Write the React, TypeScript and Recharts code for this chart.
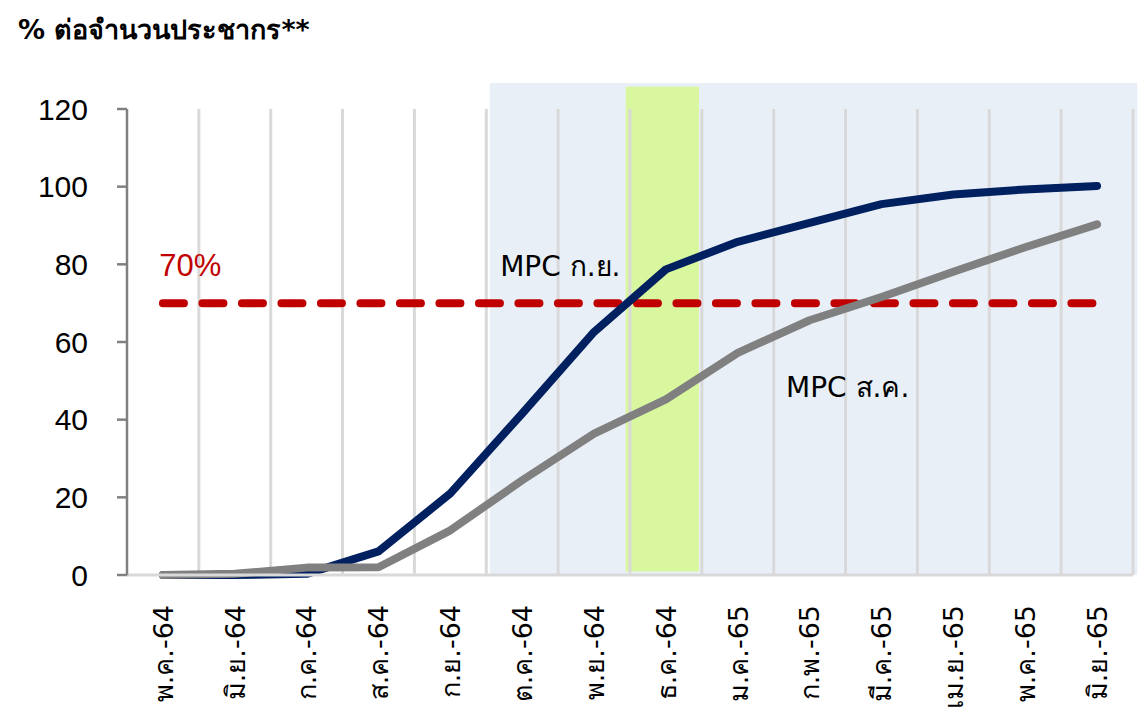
import React from "react";
import {
  ComposedChart,
  Line,
  XAxis,
  YAxis,
  ReferenceArea,
  ReferenceLine,
  ReferenceDot,
} from "recharts";

const months = [
  "พ.ค.-64",
  "มิ.ย.-64",
  "ก.ค.-64",
  "ส.ค.-64",
  "ก.ย.-64",
  "ต.ค.-64",
  "พ.ย.-64",
  "ธ.ค.-64",
  "ม.ค.-65",
  "ก.พ.-65",
  "มี.ค.-65",
  "เม.ย.-65",
  "พ.ค.-65",
  "มิ.ย.-65",
];

// MPC ก.ย. (navy) and MPC ส.ค. (gray), % of population
const mpcSep = [0, 0, 0.3, 6.1, 21, 41.6, 62.6, 78.7, 85.8, 90.7, 95.5, 98, 99.3, 100.2];
const mpcAug = [0, 0.3, 1.9, 2, 11.5, 24.4, 36.4, 45.2, 57.2, 65.6, 71.6, 78.1, 84.4, 90.3];

const yTicks = [0, 20, 40, 60, 80, 100, 120];
const target = 70;

const FONT = "Tahoma, 'DejaVu Sans', 'Noto Sans', sans-serif";
const NUM_FONT = "'Liberation Sans', Arial, sans-serif";

const data = months.map((m, i) => ({
  idx: i,
  name: m,
  mpcSep: mpcSep[i],
  mpcAug: mpcAug[i],
}));

const boundaries = months.map((_, i) => i + 0.5);

const MonthTick = (props: any) => {
  const { x, y, payload } = props;
  return (
    <text
      x={x}
      y={y}
      transform={`rotate(-90, ${x}, ${y})`}
      textAnchor="end"
      dy="0.36em"
      fill="#000"
      fontSize={27}
      fontFamily={FONT}
    >
      {months[payload.value]}
    </text>
  );
};

const TextLabel =
  (text: string, color: string, font: string, size: number) =>
  (props: any) => {
    const { viewBox } = props;
    const cx = viewBox.x + viewBox.width / 2;
    const cy = viewBox.y + viewBox.height / 2;
    return (
      <text
        x={cx}
        y={cy}
        textAnchor="middle"
        dominantBaseline="central"
        fill={color}
        fontSize={size}
        fontFamily={font}
      >
        {text}
      </text>
    );
  };

export default function App() {
  return (
    <div
      style={{
        position: "absolute",
        left: 0,
        top: 0,
        width: 1140,
        height: 714,
        background: "#fff",
        fontFamily: FONT,
      }}
    >
      <div
        style={{
          position: "absolute",
          left: 18,
          top: 8,
          fontSize: 27,
          fontWeight: "bold",
          color: "#000",
          whiteSpace: "nowrap",
        }}
      >
        % ต่อจำนวนประชากร**
      </div>
      <ComposedChart
        width={1140}
        height={714}
        data={data}
        margin={{ top: 109, right: 7, bottom: 0, left: 0 }}
      >
        <XAxis
          type="number"
          dataKey="idx"
          domain={[-0.5, 13.5]}
          ticks={months.map((_, i) => i)}
          interval={0}
          height={139}
          axisLine={{ stroke: "#d9d9d9", strokeWidth: 3 }}
          tickLine={false}
          tickSize={0}
          tickMargin={30}
          tick={<MonthTick />}
        />
        <YAxis
          type="number"
          domain={[0, 120]}
          ticks={yTicks}
          interval={0}
          width={127}
          axisLine={{ stroke: "#808080", strokeWidth: 2.5 }}
          tickLine={{ stroke: "#808080", strokeWidth: 2.5 }}
          tickSize={10}
          tickMargin={29}
          tick={{ fill: "#000", fontSize: 30, fontFamily: NUM_FONT }}
        />
        {/* forecast period shading */}
        <ReferenceArea
          x1={4.55}
          x2={13.56}
          y1={0}
          y2={126.7}
          fill="#e8eff7"
          fillOpacity={1}
          stroke="none"
          ifOverflow="visible"
        />
        <ReferenceArea
          x1={6.44}
          x2={7.46}
          y1={0.9}
          y2={125.7}
          fill="#d8f79e"
          fillOpacity={1}
          stroke="none"
          ifOverflow="visible"
        />
        {boundaries.map((b) => (
          <ReferenceLine
            key={b}
            x={b}
            stroke="#d9d9d9"
            strokeWidth={3}
            ifOverflow="visible"
          />
        ))}
        <ReferenceLine
          segment={[
            { x: 0, y: target },
            { x: 13, y: target },
          ]}
          stroke="#c00000"
          strokeWidth={8}
          strokeDasharray="21 18.5"
          strokeLinecap="round"
        />
        <Line
          dataKey="mpcSep"
          stroke="#002060"
          strokeWidth={8}
          strokeLinecap="round"
          strokeLinejoin="round"
          dot={false}
          activeDot={false}
          isAnimationActive={false}
        />
        <Line
          dataKey="mpcAug"
          stroke="#808080"
          strokeWidth={8}
          strokeLinecap="round"
          strokeLinejoin="round"
          dot={false}
          activeDot={false}
          isAnimationActive={false}
        />
        <ReferenceDot
          x={0.38}
          y={79.8}
          r={0}
          fill="none"
          stroke="none"
          label={TextLabel("70%", "#c00000", NUM_FONT, 31)}
        />
        <ReferenceDot
          x={5.53}
          y={79.5}
          r={0}
          fill="none"
          stroke="none"
          label={TextLabel("MPC ก.ย.", "#000", FONT, 28)}
        />
        <ReferenceDot
          x={9.53}
          y={48.4}
          r={0}
          fill="none"
          stroke="none"
          label={TextLabel("MPC ส.ค.", "#000", FONT, 28)}
        />
      </ComposedChart>
    </div>
  );
}
